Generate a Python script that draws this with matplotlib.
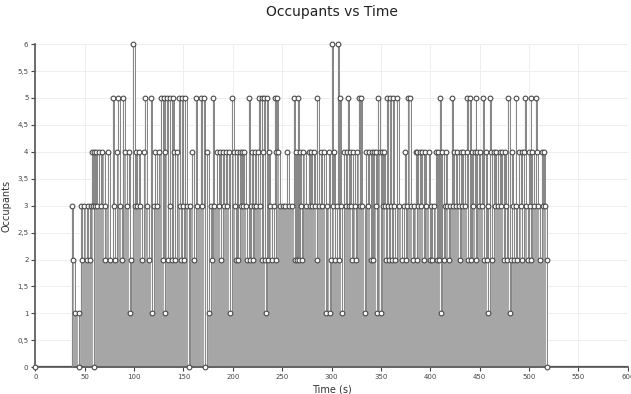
import matplotlib
matplotlib.use("Agg")
import matplotlib.pyplot as plt
import matplotlib.patheffects as pe
from matplotlib.ticker import FuncFormatter

# Occupancy log: time of each change (s) and the head-count from that moment on
time_s = [
    0, 37.5, 38.2, 39.9, 44.0, 44.6, 46.0, 47.3, 49.0, 52.4, 53.5, 55.7, 56.5, 57.4, 58.5, 59.0, 59.8, 60.5,
    61.0, 62.5, 64.0, 66.0, 67.6, 70.3, 71.0, 73.6, 76.0, 78.4, 79.4, 81.0, 82.8, 83.8, 86.2, 87.8, 89.2,
    91.2, 92.9, 94.6, 95.6, 97.3, 99.0, 100.7, 102.0, 103.4, 104.7, 106.4, 108.1, 109.8, 111.5, 113.2,
    114.9, 117.2, 118.3, 120.0, 121.6, 123.3, 125.0, 127.7, 129.0, 129.8, 130.8,
    131.8, 133.5, 134.8, 136.2, 136.8, 138.2, 139.5, 140.2, 141.9, 143.6, 145.3, 146.3, 147.7, 148.7,
    149.7, 150.7, 152.0, 153.7, 155.4, 157.1, 158.8, 160.5, 162.2, 163.9, 167.3, 169.0, 170.6, 172.3,
    174.0, 175.7, 177.4, 179.1, 179.8, 180.8, 184.2, 185.9, 186.9, 187.6, 189.6, 190.9, 192.6, 194.3,
    196.0, 197.0,
    199.4, 200.7, 202.0, 202.7, 204.1, 205.4, 206.8, 207.8, 208.8, 210.2, 211.5, 212.9, 214.6, 216.3,
    217.0, 218.0, 219.6, 220.3, 221.3, 222.3, 223.7, 225.7, 226.4, 227.8, 229.1, 229.8, 230.8, 231.8,
    232.5, 233.8, 234.9, 235.9, 236.5, 237.9, 239.9, 241.3, 242.6, 243.3, 244.0, 245.0, 246.0, 247.4,
    250.7, 252.8, 254.5, 256.8, 259.5,
    261.8, 262.5, 263.8, 264.5, 265.8, 266.9, 267.9, 269.2, 270.2, 271.2, 273.6, 277.0, 278.0, 279.4,
    280.4, 282.1, 283.4, 284.8, 285.4, 287.1, 288.8, 290.5, 292.2, 293.9, 295.6, 297.3, 298.3, 299.0,
    300.7, 301.7, 302.3, 303.7, 305.0, 306.4, 307.4, 308.1, 309.1, 310.8, 312.5, 314.2, 315.2, 316.9,
    317.6, 318.6, 319.9, 321.0, 322.0, 323.3, 324.3, 326.0, 327.7,
    328.4, 329.4, 331.1, 333.8, 335.1, 336.5, 337.8, 339.5, 340.5, 341.9, 342.9, 344.6, 345.3, 346.3,
    347.3, 348.6, 349.7, 350.7, 352.0, 353.0, 354.0, 355.4, 356.4, 357.4, 358.1, 358.8, 359.8, 360.8,
    362.2, 363.2, 364.2, 366.6, 368.2, 371.6, 373.3, 374.3, 375.0, 376.7, 377.7, 379.4, 380.4, 382.4,
    383.5, 385.1, 386.2, 386.8, 387.8, 389.2, 390.5, 391.9, 393.6,
    394.3, 395.3, 398.7, 399.3, 400.3, 402.0, 403.7, 405.4, 406.4, 407.8, 408.8, 409.8, 411.2, 412.2,
    413.9, 414.5, 415.6, 417.2, 418.9, 419.9, 421.6, 423.0, 424.0, 425.7, 427.4, 429.1, 430.1, 430.8,
    432.4, 433.5, 435.2, 436.8, 437.5, 438.5, 440.2, 440.9, 441.9, 443.6, 445.0, 446.0, 446.7, 447.7,
    449.4, 450.4, 452.1, 453.7, 454.4, 456.1, 457.1, 458.1, 458.8,
    460.2, 461.5, 462.9, 464.2, 465.6, 466.9, 468.9, 470.3, 471.3, 473.0, 474.7, 475.7, 477.1, 478.1,
    479.1, 480.4, 481.5, 482.5, 483.8, 484.8, 486.5, 487.2, 488.2, 489.9, 491.6, 492.6, 493.3, 495.0,
    496.0, 497.3, 498.4, 499.4, 500.7, 501.7, 502.4, 503.4, 505.1, 506.8, 507.8, 509.5, 510.9, 512.9,
    514.2, 515.3, 516.6, 518.0, 518.6,
]
occupants = [
    0, 3, 2, 1, 0, 1, 3, 2, 3, 2, 3, 2, 3, 4, 3, 0, 4, 3,
    4, 3, 4, 3, 4, 2, 3, 4, 2, 5, 3, 2, 4, 5, 3, 2, 5,
    4, 3, 4, 1, 2, 6, 3, 4, 3, 4, 3, 2, 4, 5, 3,
    2, 5, 1, 3, 4, 3, 4, 5, 2, 5, 1,
    4, 5, 2, 3, 5, 2, 5, 4, 2, 4, 5, 3, 2, 5,
    3, 2, 5, 3, 0, 3, 4, 2, 5, 3, 5, 3, 5, 0,
    4, 1, 3, 2, 5, 3, 4, 3, 4, 2, 4, 3, 4, 3,
    4, 1,
    5, 4, 3, 2, 4, 2, 4, 3, 4, 3, 4, 3, 2, 5,
    2, 3, 4, 2, 3, 4, 3, 4, 5, 3, 5, 2, 4, 5,
    2, 1, 5, 2, 4, 3, 2, 3, 5, 2, 4, 5, 4, 3,
    3, 3, 4, 3, 3,
    5, 2, 4, 2, 5, 2, 4, 3, 2, 4, 3, 4, 3, 4,
    3, 4, 3, 2, 5, 3, 4, 3, 4, 1, 3, 4, 1, 2,
    6, 3, 4, 2, 3, 6, 2, 5, 3, 1, 4, 3, 4, 5,
    3, 4, 3, 2, 4, 3, 2, 4, 5,
    3, 5, 3, 1, 4, 3, 4, 2, 4, 2, 4, 3, 4, 1,
    5, 4, 1, 4, 3, 4, 3, 2, 5, 3, 2, 5, 3, 2,
    5, 3, 2, 5, 3, 2, 3, 4, 2, 3, 5, 5, 3, 2,
    3, 4, 2, 4, 3, 4, 3, 4, 2,
    4, 3, 4, 2, 3, 2, 3, 4, 2, 4, 2, 5, 1, 4,
    2, 3, 4, 3, 2, 3, 5, 3, 4, 3, 4, 3, 2, 4,
    3, 4, 3, 4, 5, 2, 5, 2, 4, 3, 4, 5, 2, 4,
    3, 4, 3, 5, 2, 4, 2, 3, 1,
    5, 4, 2, 4, 3, 4, 3, 4, 3, 4, 2, 4, 3, 2,
    5, 1, 2, 4, 3, 2, 5, 3, 2, 4, 3, 4, 2, 4,
    5, 3, 2, 4, 3, 5, 2, 4, 3, 5, 4, 3, 2, 4,
    3, 4, 3, 2, 0,
]

x_ticks = list(range(0, 601, 50))
y_ticks = [i * 0.5 for i in range(13)]

fig = plt.figure(figsize=(6.31, 3.94), dpi=100)
ax = fig.add_axes([0.056, 0.068, 0.939, 0.82])

x_end = x_ticks[-1]
line_t = time_s + [x_end]
line_v = occupants + [occupants[-1]]

ax.fill_between(line_t, line_v, 0, step="post", color="#a6a6a6", lw=0, zorder=2)
ax.plot(line_t, line_v, drawstyle="steps-post", color="#858585", lw=0.7, zorder=3,
        path_effects=[pe.Stroke(linewidth=1.5, foreground="#f4f4f4"), pe.Normal()])
ax.plot([0, time_s[1]], [0, 0], color="#555555", lw=1.6, zorder=4, solid_capstyle="butt")
ax.plot([time_s[-1], x_end], [0, 0], color="#555555", lw=1.6, zorder=4, solid_capstyle="butt")
ax.plot(time_s, occupants, ls="none", marker="o", ms=3.4, mfc="white", mec="#4a4a4a",
        mew=0.8, zorder=5, clip_on=False)

ax.set_xlim(0, x_end)
ax.set_ylim(0, 6)
ax.set_xticks(x_ticks)
ax.set_yticks(y_ticks)
ax.yaxis.set_major_formatter(FuncFormatter(lambda v, p: f"{v:g}".replace(".", ",")))
ax.grid(True, color="#eeeeee", lw=0.7, zorder=0)
ax.set_axisbelow(True)

for side in ("top", "right"):
    ax.spines[side].set_visible(False)
for side in ("left", "bottom"):
    ax.spines[side].set_color("#555555")
    ax.spines[side].set_linewidth(1.2)
ax.tick_params(axis="both", labelsize=5, colors="#444444", length=3, width=0.8, pad=2)

ax.set_title("Occupants vs Time", fontsize=10, color="#222222", pad=20)
ax.set_xlabel("Time (s)", fontsize=7, color="#333333", labelpad=3)
ax.set_ylabel("Occupants", fontsize=7, color="#333333", labelpad=4)

fig.savefig("out.png", dpi=100)
